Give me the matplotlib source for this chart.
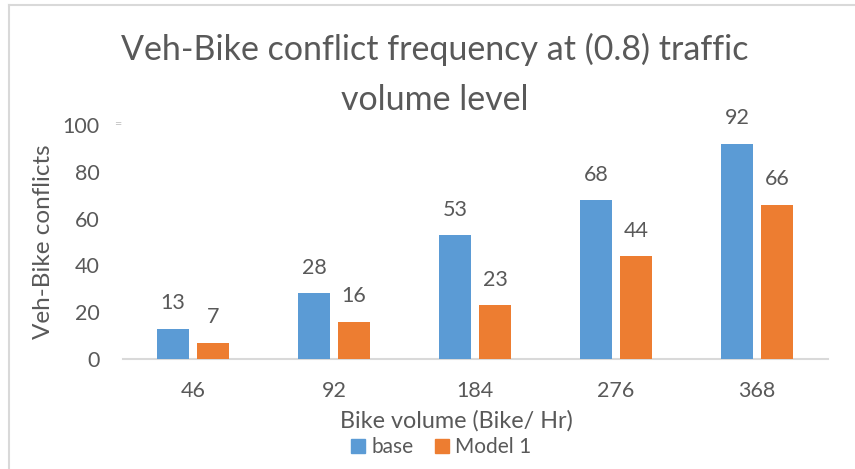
import matplotlib
matplotlib.use("Agg")
import matplotlib.pyplot as plt
import numpy as np
from matplotlib.patches import Patch
from matplotlib.lines import Line2D

categories = ["46", "92", "184", "276", "368"]
base = [13, 28, 53, 68, 92]
model1 = [7, 16, 23, 44, 66]
yticks = [0, 20, 40, 60, 80, 100]
title_lines = ["Veh-Bike conflict frequency at (0.8) traffic", "volume level"]

plt.rcParams['font.family'] = ['Lato', 'DejaVu Sans']
txt = '#595959'

fig = plt.figure(figsize=(8.55, 4.69), dpi=100)
ax = fig.add_axes([0.1433, 0.2345, 0.8246, 0.499])

x = np.arange(len(categories))
w = 0.227
gap = 0.057
off = (w + gap) / 2
b1 = ax.bar(x - off, base, width=w, color='#5B9BD5', zorder=3)
b2 = ax.bar(x + off, model1, width=w, color='#ED7D31', zorder=3)

for bars, vals in ((b1, base), (b2, model1)):
    for r, v in zip(bars, vals):
        ax.annotate(str(v), (r.get_x() + r.get_width() / 2, v), xytext=(0, 11),
                    textcoords='offset points', ha='center', va='bottom',
                    fontsize=15.5, color=txt)

ax.set_xlim(-0.5, len(categories) - 0.5)
ax.set_ylim(0, 100)
ax.set_yticks(yticks)
ax.set_xticks(x)
ax.set_xticklabels(categories)
ax.tick_params(axis='both', length=0, labelsize=15.5, labelcolor=txt)
ax.tick_params(axis='y', pad=16.5)
ax.tick_params(axis='x', pad=16)
for s in ['top', 'right', 'left']:
    ax.spines[s].set_visible(False)
ax.spines['bottom'].set_color('#d9d9d9')
ax.spines['bottom'].set_linewidth(1.5)

ax.set_ylabel('Veh-Bike conflicts', fontsize=17.5, color=txt, labelpad=6)
ax.set_xlabel('Bike volume (Bike/ Hr)', fontsize=16.8, color=txt, labelpad=6)
ax.xaxis.label.set_x(0.473)

fig.text(0.509, 1 - 49.5 / 469, title_lines[0], ha='center', va='center',
         fontsize=24.5, color=txt)
fig.text(0.509, 1 - 99.5 / 469, title_lines[1], ha='center', va='center',
         fontsize=24.5, color=txt)

fig.text(0.138, 0.735, '=', ha='center', va='center', fontsize=9, color='#c8c8c8')

handles = [Patch(color='#5B9BD5', label='base'), Patch(color='#ED7D31', label='Model 1')]
fig.legend(handles=handles, loc='center', bbox_to_anchor=(0.516, 0.047), ncol=2,
           frameon=False, fontsize=15, labelcolor=txt, handlelength=0.67,
           handleheight=0.67, handletextpad=0.3, columnspacing=1.05)

# chart border (light gray, only top & left visible)
fig.add_artist(Line2D([0.0105, 1.0], [1 - 5.5 / 469, 1 - 5.5 / 469], color='#d9d9d9', lw=1.5,
                      transform=fig.transFigure))
fig.add_artist(Line2D([0.0105, 0.0105], [0, 1 - 5.5 / 469], color='#d9d9d9', lw=1.5,
                      transform=fig.transFigure))

fig.savefig('out.png', dpi=100)
